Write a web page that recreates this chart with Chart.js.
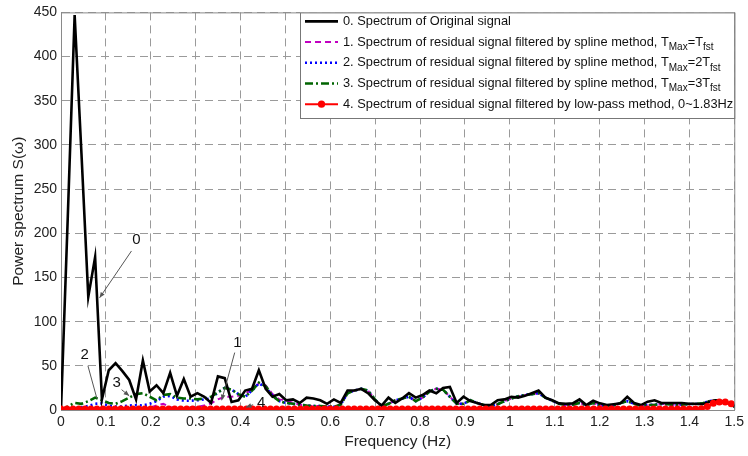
<!DOCTYPE html>
<html>
<head>
<meta charset="utf-8">
<script src="https://cdn.jsdelivr.net/npm/chart.js@4.4.0/dist/chart.umd.min.js"></script>
<style>
  html, body { margin: 0; padding: 0; background: #fff; }
  #wrap { width: 748px; height: 456px; }
</style>
</head>
<body>
<div id="wrap"><canvas id="chart" width="748" height="456"></canvas></div>
<script>
// frequency bins of the spline / original spectra (Hz)
const freq = [0, 0.0152, 0.0304, 0.0456, 0.0608, 0.076, 0.0912, 0.1064, 0.1216, 0.1368,
  0.152, 0.1672, 0.1824, 0.1976, 0.2128, 0.228, 0.2432, 0.2584, 0.2736, 0.2888,
  0.304, 0.3192, 0.3344, 0.3496, 0.3648, 0.38, 0.3952, 0.4104, 0.4256, 0.4408,
  0.456, 0.4712, 0.4864, 0.5016, 0.5168, 0.532, 0.5472, 0.5624, 0.5776, 0.5928,
  0.608, 0.6232, 0.6384, 0.6536, 0.6688, 0.684, 0.6992, 0.7144, 0.7296, 0.7448,
  0.76, 0.7752, 0.7904, 0.8056, 0.8208, 0.836, 0.8512, 0.8664, 0.8816, 0.8968,
  0.912, 0.9272, 0.9424, 0.9576, 0.9728, 0.988, 1.0032, 1.0184, 1.0336, 1.0488,
  1.064, 1.0792, 1.0944, 1.1096, 1.1248, 1.14, 1.1552, 1.1704, 1.1856, 1.2008,
  1.216, 1.2312, 1.2464, 1.2616, 1.2768, 1.292, 1.3072, 1.3224, 1.3376, 1.3528,
  1.368, 1.3832, 1.3984, 1.4136, 1.4288, 1.444, 1.4592, 1.4744, 1.4896, 1.5048];

// frequency bins of the low-pass spectrum (Hz)
const lowFreq = [0, 0.0133, 0.0267, 0.04, 0.0533, 0.0667, 0.08, 0.0933, 0.1067, 0.12,
  0.1333, 0.1467, 0.16, 0.1733, 0.1867, 0.2, 0.2133, 0.2267, 0.24, 0.2533,
  0.2667, 0.28, 0.2933, 0.3067, 0.32, 0.3333, 0.3467, 0.36, 0.3733, 0.3867,
  0.4, 0.4133, 0.4267, 0.44, 0.4533, 0.4667, 0.48, 0.4933, 0.5067, 0.52,
  0.5333, 0.5467, 0.56, 0.5733, 0.5867, 0.6, 0.6133, 0.6267, 0.64, 0.6533,
  0.6667, 0.68, 0.6933, 0.7067, 0.72, 0.7333, 0.7467, 0.76, 0.7733, 0.7867,
  0.8, 0.8133, 0.8267, 0.84, 0.8533, 0.8667, 0.88, 0.8933, 0.9067, 0.92,
  0.9333, 0.9467, 0.96, 0.9733, 0.9867, 1, 1.0133, 1.0267, 1.04, 1.0533,
  1.0667, 1.08, 1.0933, 1.1067, 1.12, 1.1333, 1.1467, 1.16, 1.1733, 1.1867,
  1.2, 1.2133, 1.2267, 1.24, 1.2533, 1.2667, 1.28, 1.2933, 1.3067, 1.32,
  1.3333, 1.3467, 1.36, 1.3733, 1.3867, 1.4, 1.4133, 1.4267, 1.44, 1.4533,
  1.4667, 1.48, 1.4933];

// 0. original signal
const original = [0, 220, 447, 290, 128, 173, 12, 45, 53, 44,
  34, 12, 56, 21, 28, 19, 42, 16, 35, 15,
  19, 15, 8, 38, 36, 9, 11, 22, 24, 45,
  24, 15, 18, 11, 12, 8, 14, 13, 11, 7,
  12, 8, 22, 22, 24, 19, 11, 5, 14, 8,
  13, 19, 14, 17, 22, 19, 25, 26, 8, 15,
  10, 8, 5.5, 5.5, 11, 12, 15, 14, 16, 19,
  22, 14, 11, 7.5, 7, 7.5, 12, 5.6, 10.5, 7.5,
  5.6, 6.5, 7.5, 15, 8, 5.6, 9.4, 11, 8, 8,
  8, 8, 7, 7, 6.5, 9, 11, 10, 7.5, 2];

// 1. spline, TMax = Tfst
const spline1 = [0, 0.5, 1, 1, 1.5, 2, 2, 2, 2, 2,
  2, 2, 2, 2.5, 5, 7, 3, 2, 2, 3,
  3.7, 5, 7.5, 12, 15, 15, 16, 18, 24, 30,
  28, 18, 12, 11, 8, 6, 5, 4.5, 4.5, 4,
  3.7, 6, 19, 22, 24, 22, 12, 4, 7, 11,
  13, 15, 10, 14, 21, 24, 23, 15, 7, 7,
  11, 8, 5.6, 4, 6.5, 10, 13, 15.5, 17, 18,
  19, 14, 10.5, 7, 5.6, 6, 8, 5.6, 8, 5.6,
  4.5, 5, 8, 10, 7, 4.5, 5.6, 6, 6.8, 6.5,
  5.6, 6, 6.8, 6.8, 7.5, 10, 11, 9.4, 6.8, 5];

// 2. spline, TMax = 2Tfst
const spline2 = [0, 1, 2, 3, 4.5, 7, 7.5, 5, 4, 4,
  5, 5.5, 5, 7, 10, 15, 16, 12, 10.5, 10.5,
  11, 12, 13, 20, 25, 23, 18, 15, 22, 30,
  26, 16, 10, 8, 7, 6, 5, 4.5, 4.5, 4,
  3.7, 6, 19, 22, 24, 22, 12, 4, 7, 11,
  13, 15, 10, 14, 21, 24, 23, 15, 7, 7,
  11, 8, 5.6, 4, 6.5, 10, 13, 15.5, 17, 18,
  19, 14, 10.5, 7, 5.6, 6, 8, 5.6, 8, 5.6,
  4.5, 5, 8, 10, 7, 4.5, 5.6, 6, 6.8, 6.5,
  5.6, 6, 6.8, 6.8, 7.5, 10, 11, 9.4, 6.8, 5];

// 3. spline, TMax = 3Tfst
const spline3 = [0, 4, 8, 7, 10, 14, 11, 8, 7, 10,
  14, 18, 19, 15, 11, 17, 18, 14, 13, 13,
  12, 13, 15, 20, 25, 23, 18, 15, 22, 31,
  27, 16, 10, 8, 7, 6, 5, 4.5, 4.5, 4,
  3.7, 6, 19, 22, 24, 22, 12, 4, 7, 11,
  13, 15, 10, 14, 21, 24, 23, 15, 7, 7,
  11, 8, 5.6, 4, 6.5, 10, 13, 15.5, 17, 18,
  19, 14, 10.5, 7, 5.6, 6, 8, 5.6, 8, 5.6,
  4.5, 5, 8, 10, 7, 4.5, 5.6, 6, 6.8, 6.5,
  5.6, 6, 6.8, 6.8, 7.5, 10, 11, 9.4, 6.8, 5];

// 4. low-pass, 0~1.83Hz (on lowFreq)
const lowpass = [1, 1, 1, 1, 1, 1, 1, 1, 1, 1,
  1, 1, 1, 1, 1, 1, 1, 1, 1, 1,
  1, 1, 1, 1, 1, 1, 1, 1, 1, 1,
  1, 1, 1, 1, 1, 1, 1, 1, 1, 1,
  1, 1, 1, 1, 1, 1, 1, 1, 1, 1,
  1, 1, 1, 1, 1, 1, 1, 1, 1, 1,
  1, 1, 1, 1, 1, 1, 1, 1, 1, 1,
  1, 1, 1, 1, 1, 1, 1, 1, 1, 1,
  1, 1, 1, 1, 1, 1, 1, 1, 1, 1,
  1, 1, 1, 1, 1, 1, 1, 1, 1, 1,
  1, 1, 1, 1, 1, 1, 1, 1.5, 4, 7.5,
  9, 9, 7];

// legend rows: [text, subscript?] pieces
const legendRows = [
  [['0. Spectrum of Original signal', false]],
  [['1. Spectrum of residual signal filtered by spline method, T', false], ['Max', true], ['=T', false], ['fst', true]],
  [['2. Spectrum of residual signal filtered by spline method, T', false], ['Max', true], ['=2T', false], ['fst', true]],
  [['3. Spectrum of residual signal filtered by spline method, T', false], ['Max', true], ['=3T', false], ['fst', true]],
  [['4. Spectrum of residual signal filtered by low-pass method, 0~1.83Hz', false]]
];

// curve labels with leader lines (data units)
const callouts = [
  { text: '0', at: [0.168, 192], from: [0.157, 180], to: [0.086, 127], head: true },
  { text: '2', at: [0.053, 62], from: [0.060, 50], to: [0.080, 13], head: false },
  { text: '3', at: [0.124, 31], from: [0.135, 23], to: [0.152, 16], head: true },
  { text: '1', at: [0.393, 76], from: [0.387, 65], to: [0.358, 11], head: true },
  { text: '4', at: [0.446, 8], from: [0.428, 6], to: [0.412, 3], head: true }
];

const FONT = '"Liberation Sans", Arial, Helvetica, sans-serif';
const toPts = (xs, ys) => xs.map((f, i) => ({ x: f, y: ys[i] }));

const styles = [
  { color: '#000000', width: 2.6, dash: [] },
  { color: '#c000c0', width: 2.0, dash: [6, 4] },
  { color: '#0000ff', width: 2.6, dash: [2, 3] },
  { color: '#006400', width: 2.6, dash: [8, 3, 2, 3] },
  { color: '#ff0000', width: 2.0, dash: [] }
];

const framePlugin = {
  id: 'frame',
  beforeDatasetsDraw(chart) {
    const { ctx, chartArea: a } = chart;
    ctx.save();
    ctx.strokeStyle = '#8a8a8a';
    ctx.lineWidth = 1;
    ctx.beginPath();
    ctx.moveTo(a.left, a.top + 0.5);
    ctx.lineTo(a.right + 0.5, a.top + 0.5);
    ctx.lineTo(a.right + 0.5, a.bottom);
    ctx.stroke();
    ctx.restore();
  }
};

const calloutPlugin = {
  id: 'callouts',
  afterDatasetsDraw(chart) {
    const { ctx, scales: { x, y } } = chart;
    ctx.save();
    callouts.forEach(c => {
      const fx = x.getPixelForValue(c.from[0]), fy = y.getPixelForValue(c.from[1]);
      const tx = x.getPixelForValue(c.to[0]), ty = y.getPixelForValue(c.to[1]);
      ctx.strokeStyle = '#555';
      ctx.fillStyle = '#555';
      ctx.lineWidth = 1;
      ctx.setLineDash([]);
      ctx.beginPath();
      ctx.moveTo(fx, fy);
      ctx.lineTo(tx, ty);
      ctx.stroke();
      if (c.head) {
        const ang = Math.atan2(ty - fy, tx - fx);
        ctx.beginPath();
        ctx.moveTo(tx, ty);
        ctx.lineTo(tx - 6 * Math.cos(ang - 0.4), ty - 6 * Math.sin(ang - 0.4));
        ctx.lineTo(tx - 6 * Math.cos(ang + 0.4), ty - 6 * Math.sin(ang + 0.4));
        ctx.closePath();
        ctx.fill();
      }
      ctx.fillStyle = '#111';
      ctx.font = '15px ' + FONT;
      ctx.textAlign = 'center';
      ctx.textBaseline = 'middle';
      ctx.fillText(c.text, x.getPixelForValue(c.at[0]), y.getPixelForValue(c.at[1]));
    });
    ctx.restore();
  }
};

const legendPlugin = {
  id: 'matlabLegend',
  afterDraw(chart) {
    const { ctx, chartArea: a } = chart;
    const box = { left: 300, top: a.top, right: a.right, bottom: 118 };
    const rowH = 20.7, firstY = box.top + 9;
    ctx.save();
    ctx.fillStyle = '#fff';
    ctx.fillRect(box.left, box.top, box.right - box.left, box.bottom - box.top);
    ctx.strokeStyle = '#777';
    ctx.lineWidth = 1;
    ctx.strokeRect(box.left + 0.5, box.top + 0.5, box.right - box.left, box.bottom - box.top);
    legendRows.forEach((row, i) => {
      const yy = firstY + i * rowH;
      const s = styles[i];
      ctx.strokeStyle = s.color;
      ctx.lineWidth = s.width;
      ctx.setLineDash(s.dash);
      ctx.beginPath();
      ctx.moveTo(305, yy);
      ctx.lineTo(338, yy);
      ctx.stroke();
      ctx.setLineDash([]);
      if (i === 4) {
        ctx.fillStyle = s.color;
        ctx.beginPath();
        ctx.arc(321.5, yy, 3.6, 0, Math.PI * 2);
        ctx.fill();
      }
      let cx = 343;
      ctx.fillStyle = '#111';
      ctx.textAlign = 'left';
      ctx.textBaseline = 'middle';
      row.forEach(([t, sub]) => {
        ctx.font = (sub ? '10px ' : '12.8px ') + FONT;
        ctx.fillText(t, cx, sub ? yy + 5 : yy);
        cx += ctx.measureText(t).width;
      });
    });
    ctx.restore();
  }
};

const names = ['0', '1', '2', '3', '4'];
const series = [
  toPts(freq, original), toPts(freq, spline1), toPts(freq, spline2),
  toPts(freq, spline3), toPts(lowFreq, lowpass)
];
const drawOrder = [1, 4, 3, 2, 0];

new Chart(document.getElementById('chart'), {
  type: 'line',
  data: {
    datasets: series.map((data, i) => ({
      label: names[i],
      data: data,
      borderColor: styles[i].color,
      backgroundColor: styles[i].color,
      borderWidth: styles[i].width,
      borderDash: styles[i].dash,
      pointRadius: i === 4 ? 3.5 : 0,
      pointBorderWidth: 0,
      tension: 0,
      fill: false,
      order: drawOrder[i]
    }))
  },
  options: {
    responsive: false,
    animation: false,
    layout: { padding: { top: 11, right: 8, left: 0, bottom: 0 } },
    plugins: { legend: { display: false }, tooltip: { enabled: false } },
    scales: {
      x: {
        type: 'linear',
        min: 0,
        max: 1.5,
        afterFit: s => { s.height = 46; },
        ticks: {
          stepSize: 0.1,
          padding: 4,
          color: '#222',
          font: { family: FONT, size: 14 },
          callback: v => String(Math.round(v * 10) / 10)
        },
        grid: { color: '#9a9a9a', lineWidth: 1, drawTicks: false },
        border: { color: '#8a8a8a', dash: [8, 5] },
        title: { display: true, text: 'Frequency (Hz)', color: '#222', font: { family: FONT, size: 15.5 }, padding: { top: 0, bottom: 5 } }
      },
      y: {
        min: 0,
        max: 450,
        afterFit: s => { s.width = 61; },
        ticks: {
          stepSize: 50,
          padding: 4,
          color: '#222',
          font: { family: FONT, size: 14 }
        },
        grid: { color: '#9a9a9a', lineWidth: 1, drawTicks: false },
        border: { color: '#8a8a8a', dash: [8, 5] },
        title: { display: true, text: 'Power spectrum S(ω)', color: '#222', font: { family: FONT, size: 15.5 }, padding: { top: 9, bottom: 0 } }
      }
    }
  },
  plugins: [framePlugin, calloutPlugin, legendPlugin]
});
</script>
</body>
</html>
